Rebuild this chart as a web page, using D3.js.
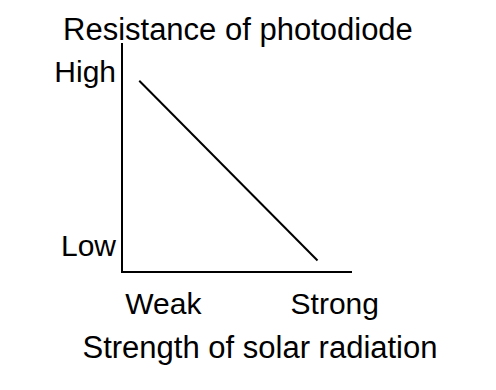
<!DOCTYPE html>
<html lang="en">
  <head>
    <meta charset="UTF-8" />
    <title>Resistance of photodiode</title>
    <script src="https://d3js.org/d3.v7.min.js"></script>
    <style>
      html,
      body {
        margin: 0;
        padding: 0;
        background: #ffffff;
      }
      text {
        font-family: "Liberation Sans", Arial, sans-serif;
        fill: #000;
      }
    </style>
  </head>
  <body>
    <div id="viz"></div>
    <script>
      // sketch data (arbitrary units 0-10 on both axes)
      const lineX = [0.75, 8.5];
      const lineY = [8.35, 0.5];
      const xTickValues = [1.8, 9.25];
      const xTickLabels = ["Weak", "Strong"];
      const yTickValues = [8.75, 1.15];
      const yTickLabels = ["High", "Low"];
      const xTitle = "Strength of solar radiation";
      const yTitle = "Resistance of photodiode";

      const W = 496,
        H = 390;
      const margin = { top: 43, right: 144, bottom: 118, left: 122 };
      const width = W - margin.left - margin.right;
      const height = H - margin.top - margin.bottom;

      const svg = d3
        .select("#viz")
        .append("svg")
        .attr("width", W)
        .attr("height", H);

      const g = svg
        .append("g")
        .attr("transform", "translate(" + margin.left + "," + margin.top + ")");

      const x = d3.scaleLinear().domain([0, 10]).range([0, width]);
      const y = d3.scaleLinear().domain([0, 10]).range([height, 0]);

      // axes (plain lines, no ticks)
      g.append("line")
        .attr("x1", x(0))
        .attr("x2", x(0))
        .attr("y1", y(0))
        .attr("y2", y(10))
        .attr("stroke", "#000")
        .attr("stroke-width", 2);

      g.append("line")
        .attr("x1", x(0) - 1)
        .attr("x2", x(10))
        .attr("y1", y(0))
        .attr("y2", y(0))
        .attr("stroke", "#000")
        .attr("stroke-width", 2);

      const pts = lineX.map((v, i) => [v, lineY[i]]);
      g.append("path")
        .datum(pts)
        .attr("fill", "none")
        .attr("stroke", "#000")
        .attr("stroke-width", 2)
        .attr(
          "d",
          d3
            .line()
            .x((d) => x(d[0]))
            .y((d) => y(d[1]))
        );

      // tick labels
      g.selectAll("text.xtick")
        .data(xTickValues)
        .join("text")
        .attr("class", "xtick")
        .attr("x", (d) => x(d))
        .attr("y", height + 42)
        .attr("text-anchor", "middle")
        .style("font-size", "30px")
        .text((d, i) => xTickLabels[i]);

      g.selectAll("text.ytick")
        .data(yTickValues)
        .join("text")
        .attr("class", "ytick")
        .attr("x", -6)
        .attr("y", (d) => y(d))
        .attr("dy", "0.36em")
        .attr("text-anchor", "end")
        .style("font-size", "30px")
        .text((d, i) => yTickLabels[i]);

      // titles
      svg
        .append("text")
        .attr("x", 63)
        .attr("y", 40)
        .style("font-size", "31px")
        .text(yTitle);

      svg
        .append("text")
        .attr("x", 260)
        .attr("y", 358)
        .attr("text-anchor", "middle")
        .style("font-size", "31px")
        .text(xTitle);
    </script>
  </body>
</html>
